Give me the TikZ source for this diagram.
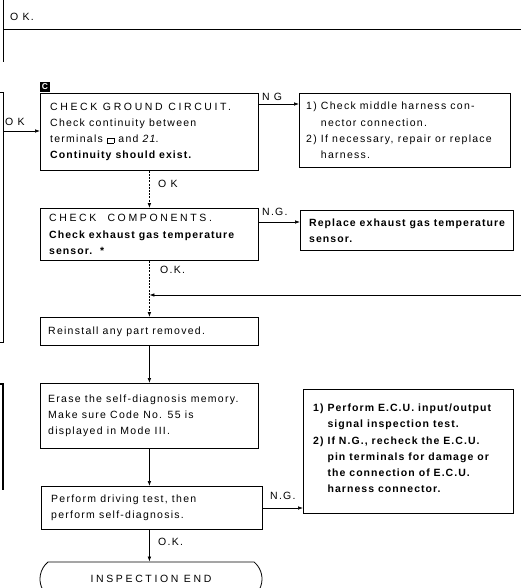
\documentclass[tikz,border=0pt]{standalone}
\usepackage{fontspec}
\setmainfont{Liberation Sans}[LetterSpace=12, BoldFeatures={LetterSpace=10}]
\newfontfamily\headfont{Liberation Sans}[LetterSpace=25]
\usetikzlibrary{arrows.meta,shapes.misc,calc}
\tikzset{
  box/.style={draw, line width=0.8pt, anchor=north west, inner sep=0pt},
  txt/.style={anchor=west, align=left, inner sep=0pt, font=\fontsize{10.5}{16.3}\selectfont},
  lbl/.style={anchor=west, inner sep=0pt, font=\fontsize{10.5}{12}\selectfont},
  arr/.style={line width=0.7pt, -{Latex[length=5pt,width=3.6pt]}},
  okline/.style={line width=0.7pt, dash pattern=on 2pt off 1.2pt},
  plain/.style={line width=0.8pt},
}
\begin{document}
\begin{tikzpicture}[x=1pt,y=-1pt]
\useasboundingbox (0,0) rectangle (521,588);
\clip (0,0) rectangle (521,588);

% top fragment
\draw[plain] (3,0) -- (3,62);
\coordinate (topl) at (3,29);
\coordinate (topr) at (521,29);
\draw[plain] (topl) -- (topr);
\node[lbl] (oktop) at (10,17) {O K.};

% left bracket 1
\draw[plain] (0,92) -- (3,92) -- (3,342) -- (0,342);
% left bracket 2
\draw[line width=1.5pt] (0,384) -- (3,384) -- (3,490);

% marker
\node[fill=black, text=white, minimum size=9.5pt, inner sep=0pt, anchor=north west,
      font=\fontsize{8.5}{8.5}\selectfont\bfseries] (mk) at (40,82) {C};

% boxes
\node[box, minimum width=218pt, minimum height=77pt] (b1) at (40,93) {};
\node[txt] (t1) at ([xshift=10pt]b1.west) {{\headfont CHECK GROUND CIRCUIT.}\\
Check continuity between\\
terminals {\setlength{\fboxsep}{0pt}\setlength{\fboxrule}{0.6pt}\fbox{\rule{0pt}{4pt}\hspace{6pt}}} and \textit{21}.\\
\textbf{Continuity should exist.}};

\node[box, minimum width=211pt, minimum height=74pt] (b2) at (299,93) {};
\node[txt] (t2) at ([xshift=7pt]b2.west) {1)\ Check middle harness con-\\
\hphantom{1)\ }nector connection.\\
2)\ If necessary, repair or replace\\
\hphantom{2)\ }harness.};

\node[box, minimum width=218pt, minimum height=52pt] (b3) at (40,208) {};
\node[txt] (t3) at ([xshift=9pt]b3.west) {{\headfont CHECK\ \ COMPONENTS.}\\
\textbf{Check exhaust gas temperature}\\
\textbf{sensor.\ \ *}};

\node[box, minimum width=213pt, minimum height=40pt] (b4) at (300,210) {};
\node[txt] (t4) at ([xshift=9pt]b4.west) {\textbf{Replace exhaust gas temperature}\\
\textbf{sensor.}};

\node[box, minimum width=218pt, minimum height=28pt] (b5) at (40,317) {};
\node[txt] (t5) at ([xshift=8pt]b5.west) {Reinstall any part removed.};

\node[box, minimum width=218pt, minimum height=65pt] (b6) at (40,383) {};
\node[txt] (t6) at ([xshift=8pt]b6.west) {Erase the self-diagnosis memory.\\
Make sure Code No. 55 is\\
displayed in Mode III.};

\node[box, minimum width=221pt, minimum height=43pt] (b7) at (41,486) {};
\node[txt] (t7) at ([xshift=10pt]b7.west) {Perform driving test, then\\
perform self-diagnosis.};

\node[box, minimum width=210pt, minimum height=124pt] (b8) at (303,389) {};
\node[txt] (t8) at ([xshift=10pt,yshift=3pt]b8.west) {\textbf{1)\ Perform E.C.U. input/output}\\
\textbf{\hphantom{1)\ }signal inspection test.}\\
\textbf{2)\ If N.G., recheck the E.C.U.}\\
\textbf{\hphantom{2)\ }pin terminals for damage or}\\
\textbf{\hphantom{2)\ }the connection of E.C.U.}\\
\textbf{\hphantom{2)\ }harness connector.}};

\node[draw, line width=0.8pt, rounded rectangle, rounded rectangle arc length=100,
      minimum width=222pt, minimum height=34pt, inner sep=0pt,
      font=\fontsize{10.5}{12}\selectfont\headfont] (term) at (151,579) {INSPECTION END};

% connectors
\coordinate (okL) at (3,131);
\draw[arr] (okL) -- (okL -| b1.west);
\node[lbl] (okLl) at (5,122) {O K};

\coordinate (ng1) at ([yshift=-11pt]b1.north east);
\draw[arr] (ng1) -- (ng1 -| b2.west);
\node[lbl] (ng1l) at (262,97) {N G};

\draw[okline, arr] (b1.south) -- (b3.north);
\node[lbl] (ok1l) at (158,184) {O K};

\coordinate (ng2) at ([yshift=-14pt]b3.north east);
\draw[arr] (ng2) -- (ng2 -| b4.west);
\node[lbl] (ng2l) at (262,212) {N.G.};

\draw[okline, arr] (b3.south) -- (b5.north);
\node[lbl] (ok2l) at (160,270) {O.K.};

\coordinate (ret) at (521,295);
\draw[arr] (ret) -- (ret -| b3.south);

\draw[arr] (b5.south) -- (b6.north);
\draw[arr] (b6.south) -- (b6.south |- b7.north);

\coordinate (ng3) at ([yshift=-22pt]b7.north east);
\draw[arr] (ng3) -- (ng3 -| b8.west);
\node[lbl] (ng3l) at (270,496) {N.G.};

\draw[arr] (b6.south |- b7.south) -- (b6.south |- term.north);
\node[lbl] (ok3l) at (158,542) {O.K.};
\end{tikzpicture}
\end{document}
